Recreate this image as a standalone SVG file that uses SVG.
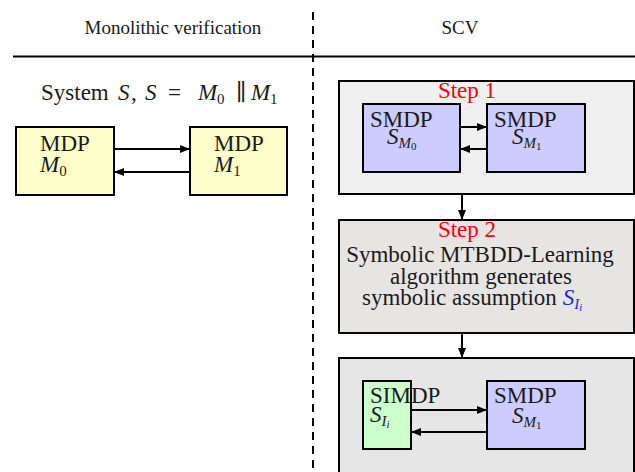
<svg xmlns="http://www.w3.org/2000/svg" width="635" height="472" viewBox="0 0 635 472">
<defs>
<marker id="ah" markerWidth="10" markerHeight="8" refX="9" refY="4" orient="auto" markerUnits="userSpaceOnUse">
<path d="M0,0 L10,4 L0,8 Z" fill="#000"/>
</marker>
<style>
text{font-family:"Liberation Serif","DejaVu Serif",serif;font-size:23px;fill:#1a1a1a}
.h{font-size:19px}
.i{font-style:italic}
.s{font-size:15px}
.ss{font-size:11px}
.red{fill:#ff0000}
.blue{fill:#2222ee}
.box{stroke:#000;stroke-width:2}
.con{stroke:#000;stroke-width:2;fill:none;marker-end:url(#ah)}
</style>
</defs>
<rect width="635" height="472" fill="#fff"/>
<g id="header">
<text class="h" x="173" y="34" text-anchor="middle">Monolithic verification</text>
<text class="h" x="460" y="34" text-anchor="middle">SCV</text>
<line x1="13" y1="56.5" x2="635" y2="56.5" stroke="#000" stroke-width="2"/>
<line x1="313" y1="12" x2="313" y2="472" stroke="#000" stroke-width="2" stroke-dasharray="8,6"/>
</g>
<g id="system-label">
<text y="100"><tspan x="41">System</tspan><tspan class="i" x="118">S</tspan><tspan x="131">,</tspan><tspan class="i" x="145">S</tspan><tspan x="168">=</tspan><tspan class="i" x="198">M</tspan><tspan class="s" x="217" dy="4">0</tspan><tspan x="236" dy="-4">∥</tspan><tspan class="i" x="251">M</tspan><tspan class="s" x="270" dy="4">1</tspan></text>
</g>
<g id="mdp-m0">
<rect class="box" x="16" y="127" width="98" height="68" fill="#ffffcc"/>
<text x="40" y="151">MDP</text>
<text x="40" y="172"><tspan class="i">M</tspan><tspan class="s" dy="4">0</tspan></text>
</g>
<g id="mdp-m1">
<rect class="box" x="190" y="127" width="97" height="68" fill="#ffffcc"/>
<text x="214" y="151">MDP</text>
<text x="214" y="172"><tspan class="i">M</tspan><tspan class="s" dy="4">1</tspan></text>
</g>
<g id="step1">
<rect class="box" x="339" y="81" width="295" height="113" fill="#f0f0f0"/>
<text class="red" x="467" y="98" text-anchor="middle">Step 1</text>
</g>
<g id="smdp-sm0">
<rect class="box" x="363" y="104" width="97" height="68" fill="#ccccff"/>
<text x="370" y="127">SMDP</text>
<text x="387" y="144"><tspan class="i">S</tspan><tspan class="s i" dy="4">M</tspan><tspan class="ss" dy="2">0</tspan></text>
</g>
<g id="smdp-sm1-a">
<rect class="box" x="487" y="104" width="98" height="68" fill="#ccccff"/>
<text x="494" y="127">SMDP</text>
<text x="512" y="144"><tspan class="i">S</tspan><tspan class="s i" dy="4">M</tspan><tspan class="ss" dy="2">1</tspan></text>
</g>
<g id="step2">
<rect class="box" x="339" y="220" width="295" height="113" fill="#e6e5e4"/>
<text class="red" x="467" y="237" text-anchor="middle">Step 2</text>
<text x="480" y="262" text-anchor="middle">Symbolic MTBDD-Learning</text>
<text x="481" y="284" text-anchor="middle">algorithm generates</text>
<text x="362" y="305">symbolic assumption  <tspan class="i blue">S</tspan><tspan class="s i blue" dy="4">I</tspan><tspan class="ss i blue" dy="2">i</tspan></text>
</g>
<g id="step3">
<rect class="box" x="339" y="358" width="295" height="116" fill="#e6e6e6"/>
</g>
<g id="simdp-si">
<rect class="box" x="363" y="381" width="48" height="68" fill="#ccffcc"/>
<text x="370" y="403">SIMDP</text>
<text x="370" y="422"><tspan class="i">S</tspan><tspan class="s i" dy="4">I</tspan><tspan class="ss i" dy="2">i</tspan></text>
</g>
<g id="smdp-sm1-b">
<rect class="box" x="487" y="381" width="98" height="68" fill="#ccccff"/>
<text x="494" y="403">SMDP</text>
<text x="512" y="423"><tspan class="i">S</tspan><tspan class="s i" dy="4">M</tspan><tspan class="ss" dy="2">1</tspan></text>
</g>
<g id="connectors">
<line class="con" x1="115" y1="149" x2="189" y2="149"/>
<line class="con" x1="189" y1="172" x2="115" y2="172"/>
<line class="con" x1="461" y1="127" x2="486" y2="127"/>
<line class="con" x1="486" y1="149" x2="461" y2="149"/>
<line class="con" x1="462" y1="195" x2="462" y2="219"/>
<line class="con" x1="462" y1="334" x2="462" y2="357"/>
<line class="con" x1="412" y1="410" x2="486" y2="410"/>
<line class="con" x1="486" y1="432" x2="412" y2="432"/>
</g>
</svg>
